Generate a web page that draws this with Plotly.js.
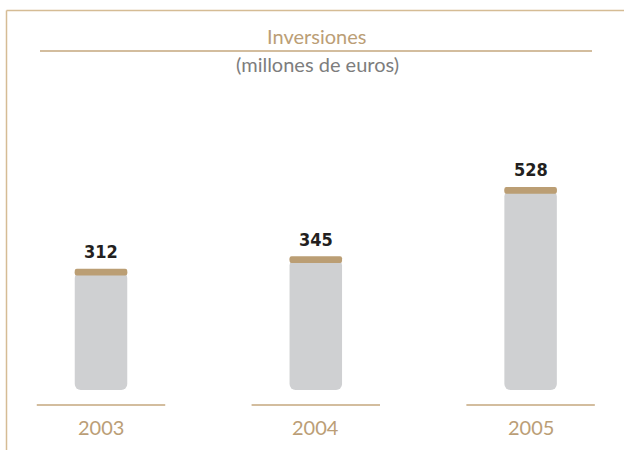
<!DOCTYPE html>
<html>
<head>
<meta charset="utf-8">
<script src="https://cdn.plot.ly/plotly-3.0.1.min.js"></script>
<style>
html,body{margin:0;padding:0;background:#fff;}
#chart{width:624px;height:450px;}
</style>
</head>
<body>
<div id="chart"></div>
<script>
// ---- data ----
const years = ['2003', '2004', '2005'];
const values = [312, 345, 528];
const chartTitle = 'Inversiones';
const chartSubtitle = '(millones de euros)';

// ---- styling constants ----
const TAN = '#bb9e76';
const LINE = '#c4a77e';
const CAP = '#bb9e74';
const GRAY = '#cfd0d2';
const FRAME = '#d5bc95';
const W = 624, H = 450;
const capHalf = 9;      // data units (~3.4px)
const barW = 0.2444;
const pos = years.map((_, i) => i);

const traces = [
  { // gray body (drawn downward from value so the rounded end is at the base)
    type: 'bar', x: pos, y: values.map(v => -v), base: values,
    width: barW, marker: {color: GRAY, cornerradius: 6, line: {width: 0}},
    hoverinfo: 'skip', showlegend: false
  },
  { // cap upper part
    type: 'bar', x: pos, y: values.map(() => capHalf * 1.5), base: values.map(v => v - capHalf / 2),
    width: barW, marker: {color: CAP, cornerradius: 3, line: {width: 0}},
    hoverinfo: 'skip', showlegend: false
  },
  { // cap lower part
    type: 'bar', x: pos, y: values.map(() => -capHalf * 1.5), base: values.map(v => v + capHalf / 2),
    width: barW, marker: {color: CAP, cornerradius: 3, line: {width: 0}},
    hoverinfo: 'skip', showlegend: false
  }
];

const py = p => 1 - p / H;   // pixel -> paper y
const px = p => p / W;       // pixel -> paper x

const annotations = [];
values.forEach((v, i) => {
  annotations.push({
    x: i, y: v, xref: 'x', yref: 'y', text: String(v), showarrow: false,
    yanchor: 'bottom', yshift: 8,
    font: {family: '"DejaVu Sans Condensed", "Liberation Sans Narrow", sans-serif', size: 18, color: '#231f20', weight: 'bold'}
  });
});
years.forEach((yr, i) => {
  annotations.push({
    x: i, y: py(427), xref: 'x', yref: 'paper', text: yr, showarrow: false,
    yanchor: 'middle',
    font: {family: 'Lato, sans-serif', size: 20, color: TAN, weight: 400}
  });
});
annotations.push({
  x: px(316), y: py(36), xref: 'paper', yref: 'paper', text: chartTitle, showarrow: false,
  yanchor: 'middle', font: {family: 'Lato, sans-serif', size: 20, color: TAN, weight: 400}
});
annotations.push({
  x: px(317), y: py(64), xref: 'paper', yref: 'paper', text: chartSubtitle, showarrow: false,
  yanchor: 'middle', font: {family: 'Lato, sans-serif', size: 20, color: '#7d7d7d', weight: 400}
});

const shapes = [
  // frame
  {type: 'line', xref: 'paper', yref: 'paper', x0: px(6.5), x1: 1, y0: py(10.5), y1: py(10.5), line: {color: FRAME, width: 1.5}},
  {type: 'line', xref: 'paper', yref: 'paper', x0: px(6.5), x1: px(6.5), y0: py(10.5), y1: 0, line: {color: FRAME, width: 1.5}},
  // title rule
  {type: 'line', xref: 'paper', yref: 'paper', x0: px(40), x1: px(592), y0: py(51), y1: py(51), line: {color: LINE, width: 1.3}}
];
pos.forEach(i => {
  shapes.push({type: 'line', xref: 'x', yref: 'paper', x0: i - 0.299, x1: i + 0.299, y0: py(405), y1: py(405), line: {color: LINE, width: 1.3}});
});

const layout = {
  width: W, height: H,
  margin: {l: 0, r: 0, t: 0, b: 0, pad: 0},
  paper_bgcolor: '#ffffff', plot_bgcolor: '#ffffff',
  barmode: 'overlay',
  showlegend: false,
  xaxis: {range: [-0.4702, 2.4348], visible: false, fixedrange: true},
  yaxis: {range: [-158.7, 1031.7], visible: false, fixedrange: true},
  annotations: annotations,
  shapes: shapes
};

Plotly.newPlot('chart', traces, layout, {displayModeBar: false, staticPlot: true});
</script>
</body>
</html>
